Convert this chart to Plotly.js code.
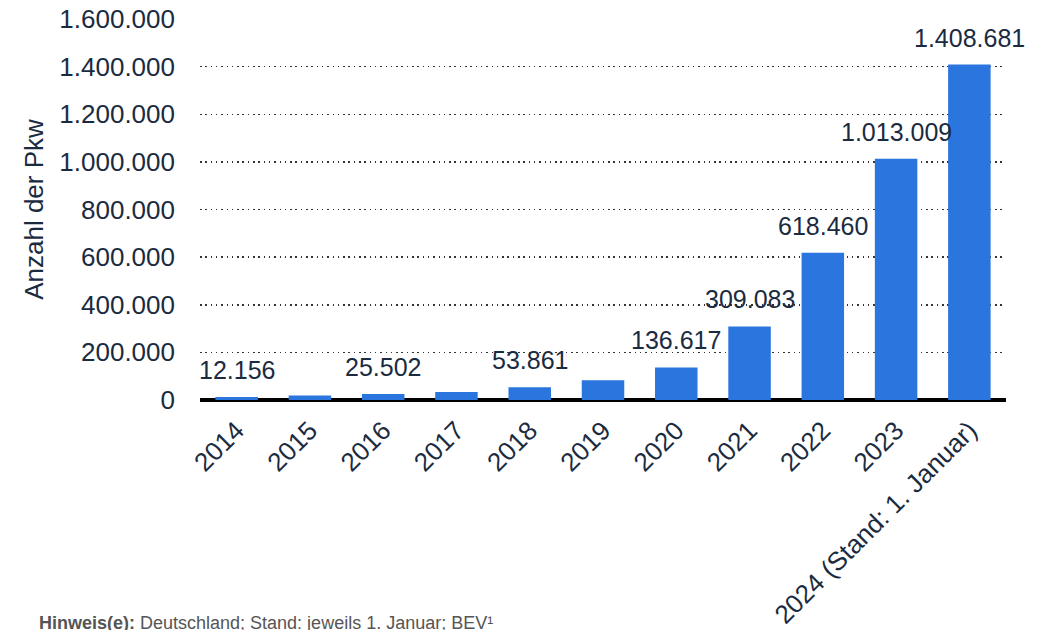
<!DOCTYPE html>
<html>
<head>
<meta charset="utf-8">
<script src="https://cdn.plot.ly/plotly-3.0.1.min.js"></script>
<style>html,body{margin:0;padding:0;background:#fff;}#chart{width:1049px;height:630px;}</style>
</head>
<body>
<div id="chart"></div>
<script>
const categories = ["2014","2015","2016","2017","2018","2019","2020","2021","2022","2023","2024 (Stand: 1. Januar)"];
const values = [12156, 18948, 25502, 34022, 53861, 83175, 136617, 309083, 618460, 1013009, 1408681];
const showLabel = [true, false, true, false, true, false, true, true, true, true, true];
const yTitle = "Anzahl der Pkw";
const note = "<b>Hinweis(e):</b> Deutschland; Stand: jeweils 1. Januar; BEV¹";

const textColor = "#1b2b3f";
const fontFam = "Liberation Sans, Arial, sans-serif";
const fmt = v => v.toString().replace(/\B(?=(\d{3})+(?!\d))/g, ".");

const annotations = [];
categories.forEach((c, i) => {
  if (!showLabel[i]) return;
  annotations.push({
    x: i, y: values[i], xref: "x", yref: "y",
    text: fmt(values[i]), showarrow: false,
    yanchor: "bottom", yshift: 11,
    font: {family: fontFam, size: 25, color: textColor}
  });
});
annotations.push({
  x: (37 - 200) / 806, xref: "paper", y: -0.555, yref: "paper", xanchor: "left", yanchor: "top",
  text: note, showarrow: false,
  font: {family: fontFam, size: 18, color: "#555"}
});

const trace = {
  type: "bar", x: categories, y: values,
  marker: {color: "#2b76de"},
  hoverinfo: "skip"
};

const layout = {
  width: 1049, height: 630,
  margin: {l: 200, r: 43, t: 19, b: 230},
  paper_bgcolor: "#fff", plot_bgcolor: "#fff",
  separators: ",.",
  bargap: 0.42,
  showlegend: false,
  font: {family: fontFam, size: 26, color: textColor},
  xaxis: {
    type: "category", range: [-0.5, categories.length - 0.5], tickangle: -45,
    showgrid: false, showline: false, zeroline: false,
    ticks: "", ticklabelstandoff: 9,
    tickfont: {family: fontFam, size: 26, color: textColor}, automargin: false
  },
  yaxis: {
    range: [0, 1600000], dtick: 200000, tickformat: ",d",
    showgrid: true, gridcolor: "#333", gridwidth: 1.5, griddash: "1.5px,3.8px",
    zeroline: true, zerolinecolor: "#000", zerolinewidth: 4,
    ticks: "", ticklabelstandoff: 24,
    tickfont: {family: fontFam, size: 26, color: textColor},
    title: {text: yTitle, font: {family: fontFam, size: 26, color: textColor}, standoff: 8},
    automargin: false
  },
  annotations: annotations
};

Plotly.newPlot("chart", [trace], layout, {displayModeBar: false, staticPlot: true});
</script>
</body>
</html>
